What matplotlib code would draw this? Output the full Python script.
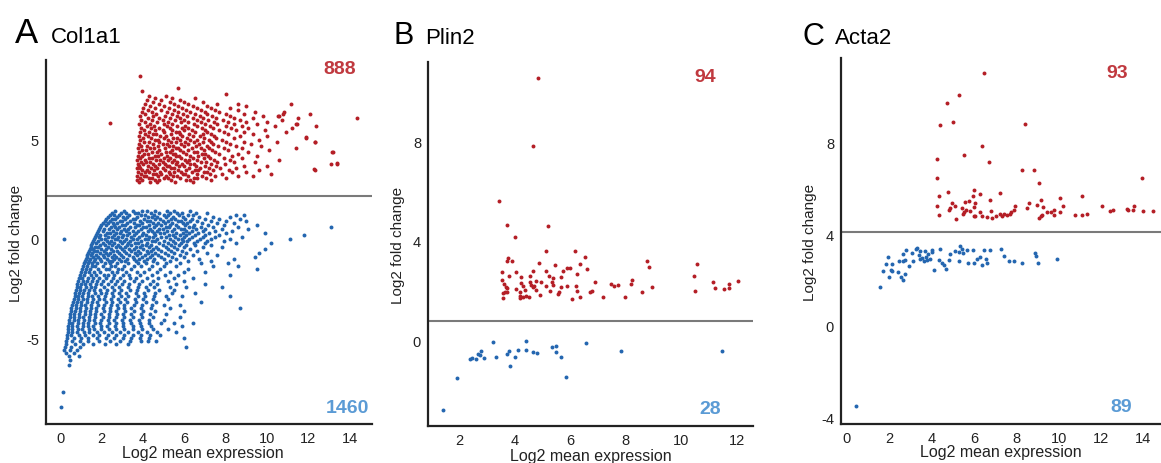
import numpy as np
import matplotlib.pyplot as plt

plt.rcParams['font.family'] = ['Liberation Sans', 'DejaVu Sans']
plt.rcParams['axes.unicode_minus'] = False

RED = '#b41e26'
BLUE = '#2466b0'
RED_TXT = '#c0393f'
BLUE_TXT = '#5b9bd5'
W, H = 1161, 464

col1a1_up_rows = [
    (2.85, [3.8, 4.35, 4.7, 5.55, 6.4]),
    (2.95, [3.72, 3.95, 4.6, 4.8, 5.35, 6.1, 6.3, 7.3]),
    (3.05, [3.85, 4.3, 4.45, 5.0, 5.2, 5.8, 6.45, 6.6, 7.05, 8.0]),
    (3.15, [3.7, 4.05, 4.15, 4.75, 5.1, 5.45, 5.65, 6.2, 6.85, 7.5, 8.6, 9.3]),
    (3.25, [3.9, 4.5, 4.65, 4.9, 5.3, 5.95, 6.05, 6.6, 7.25, 7.8, 10.2]),
    (3.35, [3.75, 4.1, 4.3, 4.85, 5.25, 5.5, 5.85, 6.35, 6.95, 7.1, 8.3, 9.0]),
    (3.45, [3.95, 4.2, 4.55, 5.05, 5.7, 6.1, 6.5, 6.65, 7.4, 8.15, 9.6, 12.3]),
    (3.55, [3.7, 3.85, 4.4, 4.7, 4.95, 5.35, 5.5, 6.25, 6.75, 7.2, 7.75, 8.5]),
    (3.65, [3.8, 4.25, 4.6, 5.15, 5.25, 5.75, 6.0, 6.55, 7.0, 7.55, 8.9, 10.0]),
    (3.75, [3.75, 4.0, 4.5, 4.8, 5.05, 5.6, 5.9, 6.3, 6.45, 7.3, 7.95, 13.1, 13.4]),
    (3.85, [3.9, 4.15, 4.35, 4.95, 5.4, 5.65, 6.15, 6.8, 7.05, 7.6, 8.4, 9.4]),
    (3.95, [3.7, 4.1, 4.65, 4.85, 5.2, 5.5, 6.05, 6.25, 6.6, 7.45, 8.2, 10.6]),
    (4.05, [3.85, 4.3, 4.45, 5.0, 5.3, 5.85, 6.4, 6.95, 7.25, 7.9, 8.8]),
    (4.15, [3.75, 3.95, 4.6, 4.75, 5.15, 5.6, 5.75, 6.3, 6.65, 7.15, 8.3, 9.5]),
    (4.25, [4.05, 4.25, 4.9, 5.45, 5.55, 6.1, 6.85, 7.0, 7.7, 8.6]),
    (4.35, [3.8, 4.45, 4.7, 5.1, 5.3, 5.95, 6.45, 6.6, 7.5, 9.1, 13.15]),
    (4.45, [3.95, 4.15, 4.8, 5.4, 5.8, 6.2, 6.95, 7.35, 8.1, 10.1]),
    (4.55, [3.75, 4.35, 4.55, 5.05, 5.6, 5.7, 6.35, 6.8, 7.2, 7.9, 8.8, 11.4]),
    (4.65, [3.9, 4.2, 4.75, 5.25, 5.45, 6.0, 6.55, 7.1, 7.65, 8.5, 9.7]),
    (4.75, [3.8, 4.5, 4.95, 5.15, 5.85, 6.2, 6.7, 7.4, 8.2, 9.2]),
    (4.85, [4.05, 4.3, 4.8, 5.35, 5.6, 6.05, 6.45, 6.9, 7.3, 8.0, 8.9, 10.5, 12.3]),
    (4.95, [3.85, 4.6, 4.75, 5.2, 5.8, 6.3, 6.6, 7.2, 7.8, 9.6]),
    (5.05, [4.0, 4.4, 5.0, 5.45, 5.65, 6.15, 6.95, 7.55, 8.4, 11.9]),
    (5.15, [3.8, 4.25, 4.85, 5.1, 5.9, 6.4, 6.75, 7.45, 8.7, 10.0]),
    (5.25, [4.1, 4.5, 4.65, 5.35, 5.8, 6.25, 6.9, 7.3, 8.1, 9.3]),
    (5.35, [3.85, 4.3, 5.0, 5.6, 5.75, 6.5, 7.1, 7.9, 8.9, 10.9]),
    (5.45, [4.05, 4.6, 4.95, 5.4, 6.0, 6.35, 7.0, 7.7, 8.5, 9.9]),
    (5.55, [3.9, 4.4, 4.8, 5.3, 5.9, 6.2, 6.85, 7.4, 8.25, 9.1, 11.2]),
    (5.65, [4.2, 4.55, 5.15, 5.65, 6.05, 6.6, 7.25, 8.0, 8.8, 10.4, 12.37]),
    (5.75, [3.8, 4.35, 5.0, 5.4, 6.45, 7.0, 7.6, 8.4, 9.5, 11.4]),
    (5.85, [4.1, 4.7, 5.2, 5.85, 6.2, 6.8, 7.45, 8.1, 9.0, 10.0]),
    (5.95, [3.9, 4.45, 4.95, 5.55, 6.0, 6.6, 7.15, 7.85, 8.7, 10.7]),
    (6.05, [4.25, 4.8, 5.3, 5.8, 6.4, 6.9, 7.55, 8.4, 9.3, 11.5, 14.36]),
    (6.15, [3.85, 4.5, 5.05, 5.65, 6.15, 6.75, 7.35, 8.2, 9.8, 10.6]),
    (6.25, [4.1, 4.65, 5.4, 5.95, 6.5, 7.1, 8.0, 8.9, 12.08]),
    (6.35, [3.95, 4.45, 5.15, 5.7, 6.3, 7.0, 7.7, 9.4, 10.8]),
    (6.45, [4.25, 4.9, 5.5, 6.1, 6.8, 7.5, 8.6]),
    (6.55, [4.0, 4.6, 5.25, 5.9, 6.6, 7.3, 8.2]),
    (6.65, [4.35, 5.0, 5.7, 6.4, 7.1, 9.0]),
    (6.75, [4.1, 4.8, 5.5, 6.2, 7.6, 8.62, 11.15]),
    (6.85, [4.5, 5.3, 6.0, 6.9]),
    (6.95, [4.2, 4.9, 5.8]),
    (7.05, [4.6, 5.4, 6.5]),
    (7.15, [4.3, 5.1]),
    (7.25, [8.02]),
]
col1a1_up_extra = [(3.86, 8.17), (3.94, 7.42), (5.71, 7.53), (2.42, 5.8), (13.17, 4.33),
                   (13.4, 3.8), (12.29, 3.5), (11.87, 5.08), (11.43, 5.75), (10.79, 6.25),
                   (10.55, 6.17), (12.32, 4.87)]

col1a1_down_rows = [
    (1.4, [2.65, 3.1, 3.5, 3.95, 4.2, 4.6, 5.15, 5.5, 6.3]),
    (1.3, [2.5, 2.95, 3.2, 3.6, 3.75, 4.4, 4.8, 5.3, 5.65, 5.9, 6.55, 7.1]),
    (1.2, [2.4, 2.6, 2.85, 3.35, 3.9, 4.1, 4.55, 5.0, 5.2, 5.75, 6.2, 6.4, 8.5, 8.9]),
    (1.1, [2.3, 2.75, 3.05, 3.25, 3.7, 4.25, 4.45, 4.7, 5.1, 5.45, 5.95, 6.7, 7.4, 8.2]),
    (1.0, [2.2, 2.5, 2.65, 3.15, 3.5, 3.6, 4.05, 4.6, 4.85, 5.35, 5.55, 6.05, 6.35, 7.0, 7.7, 8.7]),
    (0.9, [2.15, 2.4, 2.9, 3.0, 3.4, 3.85, 4.2, 4.35, 4.95, 5.2, 5.7, 5.85, 6.3, 6.6, 7.3, 8.0, 9.0]),
    (0.8, [2.05, 2.3, 2.55, 2.75, 3.25, 3.55, 3.95, 4.5, 4.75, 5.05, 5.4, 5.95, 6.15, 6.85, 7.6, 8.4]),
    (0.7, [2.0, 2.2, 2.6, 3.0, 3.15, 3.7, 3.8, 4.3, 4.65, 4.9, 5.3, 5.6, 6.05, 6.45, 7.15, 7.9, 9.5]),
    (0.6, [1.95, 2.45, 2.65, 2.85, 3.4, 3.6, 4.0, 4.15, 4.55, 5.1, 5.25, 5.7, 6.25, 6.4, 6.8, 7.4, 8.6, 13.1]),
    (0.5, [1.9, 2.1, 2.35, 2.75, 3.1, 3.3, 3.9, 4.35, 4.8, 4.95, 5.5, 5.85, 6.0, 6.55, 7.0, 7.8, 9.1]),
    (0.4, [1.85, 2.05, 2.55, 2.95, 3.2, 3.5, 3.75, 4.25, 4.45, 4.7, 5.15, 5.4, 6.1, 6.35, 6.9, 7.5, 8.3]),
    (0.3, [1.8, 2.25, 2.4, 2.7, 2.9, 3.35, 3.65, 4.0, 4.55, 4.85, 5.0, 5.6, 5.95, 6.25, 6.65, 7.2, 8.0, 9.9]),
    (0.2, [1.75, 1.95, 2.15, 2.6, 3.05, 3.25, 3.55, 3.95, 4.15, 4.6, 5.25, 5.45, 5.8, 6.1, 6.5, 7.0, 7.7, 11.8]),
    (0.1, [1.7, 1.9, 2.3, 2.5, 2.8, 3.0, 3.45, 3.8, 4.3, 4.5, 4.9, 5.1, 5.55, 6.0, 6.35, 6.9, 7.5, 8.8]),
    (0.0, [0.19, 1.65, 2.0, 2.15, 2.65, 2.75, 3.2, 3.5, 3.7, 4.1, 4.25, 4.7, 5.3, 5.7, 5.9, 6.25, 6.75, 7.3, 8.2, 11.1]),
    (-0.1, [1.6, 1.85, 2.25, 2.45, 2.9, 3.1, 3.4, 3.9, 4.45, 4.6, 5.0, 5.45, 5.95, 6.15, 6.6, 7.1, 7.9]),
    (-0.2, [1.55, 1.75, 2.05, 2.35, 2.6, 3.0, 3.3, 3.6, 3.75, 4.2, 4.8, 5.2, 5.55, 5.85, 6.45, 7.0, 8.5, 10.2]),
    (-0.3, [1.5, 1.95, 2.15, 2.5, 2.8, 3.25, 3.45, 3.95, 4.15, 4.4, 4.95, 5.35, 5.75, 6.1, 6.5, 7.3]),
    (-0.4, [1.5, 1.7, 1.85, 2.3, 2.7, 2.9, 3.15, 3.65, 3.85, 4.3, 4.65, 5.1, 5.5, 6.0, 6.9, 7.8]),
    (-0.5, [1.45, 1.6, 2.0, 2.2, 2.45, 3.0, 3.35, 3.55, 4.0, 4.5, 4.75, 5.2, 5.65, 6.3, 9.9]),
    (-0.6, [1.4, 1.65, 1.8, 2.1, 2.55, 2.75, 3.1, 3.45, 3.75, 4.2, 4.4, 4.9, 5.35, 5.9, 6.6]),
    (-0.7, [1.35, 1.55, 1.95, 2.2, 2.4, 2.85, 3.2, 3.6, 3.85, 4.25, 4.6, 5.05, 5.5, 6.1, 7.1, 9.6]),
    (-0.8, [1.3, 1.5, 1.75, 2.05, 2.3, 2.6, 2.95, 3.35, 3.7, 4.1, 4.45, 4.75, 5.2, 5.8, 6.4, 7.6]),
    (-0.9, [1.3, 1.6, 1.85, 2.1, 2.5, 2.7, 3.05, 3.5, 3.95, 4.35, 4.9, 5.4, 6.0, 9.4]),
    (-1.0, [1.25, 1.45, 1.7, 1.95, 2.25, 2.6, 2.85, 3.25, 3.55, 3.8, 4.2, 4.55, 5.0, 5.6, 6.7, 8.4]),
    (-1.1, [1.2, 1.4, 1.65, 2.0, 2.35, 2.5, 2.95, 3.15, 3.65, 4.05, 4.5, 5.3, 6.2, 7.3]),
    (-1.2, [1.15, 1.35, 1.55, 1.8, 2.15, 2.4, 2.75, 3.3, 3.75, 4.15, 4.7, 5.1, 5.8, 6.8, 8.1]),
    (-1.35, [1.1, 1.3, 1.55, 1.7, 2.05, 2.45, 2.65, 3.1, 3.55, 3.9, 4.45, 5.0, 5.6, 7.4, 8.6]),
    (-1.5, [1.05, 1.25, 1.45, 1.85, 2.2, 2.35, 2.8, 3.0, 3.45, 4.3, 4.85, 6.2, 9.5]),
    (-1.65, [1.0, 1.2, 1.4, 1.65, 1.95, 2.5, 2.75, 3.2, 3.7, 4.05, 4.7, 5.3, 6.0, 7.0]),
    (-1.8, [0.95, 1.15, 1.5, 1.75, 2.1, 2.3, 2.6, 3.05, 3.35, 3.85, 4.45, 5.05, 5.7, 8.2]),
    (-1.95, [0.9, 1.05, 1.35, 1.6, 1.9, 2.2, 2.55, 2.9, 3.4, 3.65, 4.2, 4.75, 5.5, 6.4]),
    (-2.1, [0.85, 1.1, 1.3, 1.55, 1.8, 2.05, 2.45, 2.75, 3.1, 3.55, 3.95, 4.5, 5.2, 6.0]),
    (-2.25, [0.82, 1.0, 1.2, 1.45, 1.75, 2.0, 2.3, 2.65, 3.0, 3.35, 3.8, 4.35, 4.7, 5.6, 7.0]),
    (-2.4, [0.8, 0.95, 1.25, 1.5, 1.7, 2.1, 2.5, 2.85, 3.3, 3.75, 4.15, 4.55, 5.3, 6.1, 7.8]),
    (-2.55, [0.75, 0.95, 1.15, 1.4, 1.65, 1.95, 2.25, 2.6, 2.95, 3.4, 3.7, 4.25, 4.8, 5.5]),
    (-2.7, [0.72, 0.9, 1.1, 1.35, 1.7, 2.0, 2.2, 2.5, 2.85, 3.2, 3.65, 4.05, 4.6, 5.4, 6.5]),
    (-2.85, [0.7, 0.85, 1.05, 1.35, 1.55, 1.85, 2.15, 2.55, 2.95, 3.3, 3.75, 4.1, 4.55, 5.1, 5.9, 8.2]),
    (-3.0, [0.65, 0.85, 1.1, 1.3, 1.6, 1.9, 2.1, 2.45, 2.8, 3.15, 3.6, 4.0, 4.5, 5.2]),
    (-3.15, [0.62, 0.8, 1.0, 1.3, 1.55, 1.8, 2.2, 2.5, 2.9, 3.25, 3.65, 4.15, 4.65, 6.8]),
    (-3.3, [0.6, 0.75, 1.0, 1.2, 1.5, 1.85, 2.1, 2.45, 2.75, 3.1, 3.55, 3.95, 4.45, 5.0, 5.8]),
    (-3.45, [0.55, 0.75, 0.95, 1.25, 1.5, 1.75, 2.05, 2.4, 2.8, 3.1, 3.45, 3.9, 4.4, 5.3, 8.7]),
    (-3.6, [0.55, 0.7, 0.95, 1.2, 1.45, 1.75, 2.1, 2.4, 2.7, 3.15, 3.55, 4.0, 4.6, 6.0]),
    (-3.75, [0.5, 0.68, 0.9, 1.2, 1.45, 1.7, 2.0, 2.35, 2.75, 3.05, 3.45, 3.9, 4.35, 5.1]),
    (-3.9, [0.48, 0.65, 0.9, 1.1, 1.4, 1.7, 2.05, 2.35, 2.7, 3.1, 3.5, 3.95, 4.5, 5.8]),
    (-4.05, [0.45, 0.65, 0.85, 1.15, 1.4, 1.65, 2.0, 2.3, 2.6, 3.0, 3.4, 3.8, 4.3, 5.0]),
    (-4.2, [0.42, 0.6, 0.85, 1.1, 1.35, 1.7, 1.95, 2.35, 2.7, 3.05, 3.45, 3.85, 4.3, 4.9, 5.5, 6.4]),
    (-4.35, [0.4, 0.6, 0.8, 1.1, 1.35, 1.6, 2.0, 2.25, 2.65, 3.05, 3.5, 3.9, 4.4, 5.9]),
    (-4.5, [0.4, 0.58, 0.85, 1.05, 1.4, 1.65, 2.0, 2.35, 2.7, 3.1, 3.5, 3.95, 4.5, 5.2]),
    (-4.65, [0.38, 0.6, 0.8, 1.15, 1.4, 1.8, 2.1, 2.5, 2.9, 3.3, 3.75, 4.2, 4.7, 5.6]),
    (-4.8, [0.35, 0.55, 0.9, 1.2, 1.6, 1.9, 2.3, 2.7, 3.1, 3.5, 3.9, 4.35, 4.85]),
    (-4.95, [0.35, 0.65, 1.0, 1.35, 1.8, 2.2, 2.6, 3.05, 3.45, 3.85, 4.3, 6.0]),
    (-5.1, [0.3, 0.6, 0.95, 1.35, 1.9, 2.4, 2.9, 3.4, 3.9, 4.25, 4.65]),
    (-5.25, [0.3, 0.7, 1.1, 1.6, 2.15, 2.7, 3.3]),
    (-5.4, [0.25, 0.55, 0.95, 6.1]),
    (-5.55, [0.2, 0.5, 0.8]),
    (-5.7, [0.3, 0.65]),
    (-5.85, [0.45, 0.9]),
    (-6.05, [0.5]),
    (-6.3, [0.45]),
]
col1a1_down_extra = [(0.13, -7.63), (0.03, -8.38)]

# ---- panel B, Plin2
plin2_up = [(4.81, 10.55), (4.63, 7.82), (3.42, 5.6), (3.69, 4.65), (3.98, 4.14), (5.19, 4.6),
            (5.13, 3.58), (6.16, 3.6), (6.52, 3.34), (3.73, 3.32), (3.9, 3.2), (3.69, 3.18),
            (4.86, 3.1), (5.43, 3.04), (6.34, 3.07), (8.78, 3.2), (8.84, 2.96), (10.57, 3.07),
            (3.52, 2.76), (4.04, 2.76), (4.65, 2.77), (5.13, 2.77), (5.86, 2.9), (6.59, 2.87),
            (5.73, 2.8), (5.98, 2.9), (4.22, 2.53), (3.78, 2.6), (4.53, 2.6), (5.22, 2.6),
            (5.37, 2.49), (6.22, 2.67), (5.64, 2.56), (10.47, 2.57), (3.51, 2.44), (4.77, 2.4),
            (3.61, 2.27), (4.22, 2.31), (4.53, 2.33), (4.93, 2.33), (5.33, 2.36), (6.88, 2.33),
            (8.23, 2.44), (11.13, 2.36), (12.06, 2.37), (3.67, 2.13), (3.69, 2.09), (4.04, 2.06),
            (4.29, 2.17), (4.59, 2.23), (4.67, 2.17), (5.13, 2.2), (5.37, 2.23), (5.67, 2.13),
            (5.86, 2.2), (6.19, 2.17), (7.46, 2.27), (7.57, 2.2), (7.72, 2.23), (8.17, 2.25),
            (8.95, 2.15), (11.22, 2.12), (11.72, 2.27), (11.73, 2.09), (11.55, 2.06), (3.63, 1.93),
            (3.72, 1.96), (4.17, 1.96), (4.35, 2.04), (4.65, 2.13), (4.77, 2.04), (5.25, 2.0),
            (5.59, 1.93), (6.22, 2.0), (6.7, 1.96), (6.76, 2.0), (8.57, 1.93), (10.51, 2.0),
            (3.58, 1.89), (4.17, 1.8), (4.29, 1.73), (4.41, 1.8), (4.89, 1.82), (5.54, 1.86),
            (3.57, 1.69), (4.19, 1.69), (6.07, 1.66), (6.36, 1.73), (7.18, 1.76), (7.96, 1.76),
            (4.51, 1.76)]
plin2_down = [(1.4, -2.8), (1.92, -1.5), (2.36, -0.75), (2.43, -0.72), (2.58, -0.75), (2.65, -0.55),
              (2.77, -0.41), (2.75, -0.59), (2.86, -0.72), (3.22, -0.08), (3.3, -0.67), (3.69, -0.55),
              (3.78, -0.41), (3.82, -1.02), (3.99, -0.65), (4.11, -0.39), (4.41, -0.01), (4.41, -0.38),
              (4.63, -0.46), (4.8, -0.52), (5.35, -0.28), (5.49, -0.21), (5.49, -0.48), (5.64, -0.68),
              (5.82, -1.46), (6.55, -0.11), (7.82, -0.44), (11.47, -0.44)]

# ---- panel C, Acta2
acta2_up = [(6.47, 11.01), (5.3, 10.05), (4.72, 9.7), (4.4, 8.77), (5.03, 8.9), (8.4, 8.81),
            (6.4, 7.85), (5.52, 7.46), (6.73, 7.14), (4.23, 7.26), (8.29, 6.81), (8.84, 6.79),
            (9.05, 6.23), (4.25, 6.46), (13.92, 6.46), (5.98, 5.93), (6.29, 5.75), (7.23, 5.77),
            (4.77, 5.82), (4.37, 5.64), (5.93, 5.64), (11.09, 5.66), (10.04, 5.59), (6.76, 5.48),
            (9.15, 5.5), (8.62, 5.35), (5.58, 5.41), (5.76, 5.44), (4.97, 5.35), (6.04, 5.34),
            (8.96, 5.28), (10.19, 5.24), (7.94, 5.24), (12.05, 5.21), (13.56, 5.21), (4.25, 5.21),
            (5.11, 5.24), (4.89, 5.12), (9.28, 5.16), (8.49, 5.12), (5.98, 5.16), (9.79, 5.06),
            (13.21, 5.09), (13.29, 5.06), (13.52, 5.03), (14.0, 5.0), (14.43, 4.99), (4.83, 5.06),
            (5.6, 5.06), (5.82, 5.0), (5.52, 4.95), (6.26, 4.97), (6.8, 5.0), (7.91, 5.03),
            (9.44, 4.95), (9.63, 4.97), (10.06, 4.95), (12.43, 5.02), (12.58, 5.03), (4.37, 4.84),
            (5.47, 4.86), (7.23, 4.87), (7.42, 4.89), (7.71, 4.87), (9.2, 4.83), (9.8, 4.81),
            (10.78, 4.84), (11.09, 4.84), (11.33, 4.87), (5.98, 4.8), (6.07, 4.77), (6.37, 4.8),
            (7.05, 4.8), (7.3, 4.77), (9.16, 4.77), (6.61, 4.73), (6.86, 4.71), (5.15, 4.67),
            (9.08, 4.71), (7.55, 4.83), (7.74, 4.95), (5.43, 5.12)]
acta2_down = [(1.57, 1.7), (1.92, 3.01), (1.86, 2.69), (1.7, 2.4), (2.12, 2.69), (2.07, 2.43),
              (2.14, 2.37), (2.01, 2.14), (2.39, 2.33), (2.55, 2.11), (2.67, 1.99), (2.73, 2.25),
              (2.48, 2.81), (2.64, 2.81), (2.73, 2.87), (2.67, 3.13), (2.77, 3.3), (2.92, 2.62),
              (3.07, 3.16), (3.24, 3.33), (3.33, 3.39), (3.43, 3.27), (3.38, 3.1), (3.46, 2.91),
              (3.55, 2.95), (3.62, 2.84), (3.7, 3.27), (3.74, 3.01), (3.85, 3.13), (3.93, 2.91),
              (4.0, 3.3), (4.12, 2.43), (4.33, 2.87), (4.4, 3.33), (4.5, 2.72), (4.59, 2.66),
              (4.68, 2.47), (4.88, 3.13), (5.11, 3.27), (5.27, 3.2), (5.35, 3.49), (5.43, 3.35),
              (5.27, 2.81), (5.47, 3.16), (5.69, 3.3), (5.74, 2.72), (5.94, 3.3), (5.98, 2.72),
              (6.13, 2.91), (6.26, 2.98), (6.37, 2.66), (6.48, 3.3), (6.57, 2.91), (6.63, 2.75),
              (6.76, 3.3), (7.27, 3.35), (7.42, 3.05), (7.63, 2.81), (7.9, 2.84), (8.26, 2.75),
              (8.89, 3.16), (8.93, 3.05), (9.04, 2.75), (9.94, 2.89), (4.84, 2.87), (3.14, 2.84),
              (3.77, 2.87), (4.02, 3.2), (0.44, -3.52)]


def flatten(rows, extra):
    xs, ys = [], []
    for y, row in rows:
        xs += row
        ys += [y] * len(row)
    for x, y in extra:
        xs.append(x)
        ys.append(y)
    return np.array(xs), np.array(ys)


def style_axis(ax, xlim, ylim, xticks, yticks, cutoff):
    ax.set_xlim(*xlim)
    ax.set_ylim(*ylim)
    ax.set_xticks(xticks)
    ax.set_yticks(yticks)
    ax.tick_params(length=0, labelsize=10.5, pad=5, colors='#222222')
    for s in ['top', 'right']:
        ax.spines[s].set_visible(False)
    for s in ['left', 'bottom']:
        ax.spines[s].set_linewidth(1.6)
        ax.spines[s].set_color('#222222')
    ax.axhline(cutoff, color='#7a7a7a', lw=1.5, zorder=1)
    ax.set_xlabel('Log2 mean expression', fontsize=11.5, color='#222222')
    ax.set_ylabel('Log2 fold change', fontsize=11, color='#222222')


def add_axes(l, r, t, b):
    return fig.add_axes([l / W, 1 - b / H, (r - l) / W, (b - t) / H])


def ftext(x, y, s, **kw):
    fig.text(x / W, 1 - y / H, s, **kw)


fig = plt.figure(figsize=(11.61, 4.64), dpi=100)

# A
ax = add_axes(46, 372, 61, 425)
ux, uy = flatten(col1a1_up_rows, col1a1_up_extra)
dx, dy = flatten(col1a1_down_rows, col1a1_down_extra)
ax.scatter(ux, uy, s=8, color=RED, lw=0, zorder=2)
ax.scatter(dx, dy, s=8, color=BLUE, lw=0, zorder=2)
style_axis(ax, (-0.68, 15.07), (-9.25, 8.95), range(0, 15, 2), [-5, 0, 5], 2.15)
ax.yaxis.set_label_coords(-0.07, 0.5)
ax.xaxis.set_label_coords(0.48, -0.057)

# B
ax = add_axes(428, 753, 63, 427)
px, py = np.array(plin2_up).T
qx, qy = np.array(plin2_down).T
ax.scatter(px, py, s=8, color=RED, lw=0, zorder=2)
ax.scatter(qx, qy, s=8, color=BLUE, lw=0, zorder=2)
style_axis(ax, (0.855, 12.59), (-3.44, 11.19), range(2, 13, 2), [0, 4, 8], 0.79)
ax.yaxis.set_label_coords(-0.071, 0.5)
ax.xaxis.set_label_coords(0.5, -0.06)

# C
ax = add_axes(841, 1161, 59, 425)
px, py = np.array(acta2_up).T
qx, qy = np.array(acta2_down).T
ax.scatter(px, py, s=8, color=RED, lw=0, zorder=2)
ax.scatter(qx, qy, s=8, color=BLUE, lw=0, zorder=2)
style_axis(ax, (-0.28, 14.83), (-4.29, 11.68), range(0, 15, 2), [-4, 0, 4, 8], 4.1)
ax.yaxis.set_label_coords(-0.075, 0.5)
ax.xaxis.set_label_coords(0.5, -0.055)

# panel titles
ftext(15, 43, 'A', fontsize=25, va='baseline')
ftext(51, 43, 'Col1a1', fontsize=16, va='baseline')
ftext(394, 44, 'B', fontsize=22, va='baseline')
ftext(425, 44, 'Plin2', fontsize=16, va='baseline')
ftext(803, 45, 'C', fontsize=22, va='baseline')
ftext(835, 44, 'Acta2', fontsize=16, va='baseline')

# counts
cnt = dict(fontsize=14, fontweight='bold', ha='center', va='center')
ftext(340, 70, '888', color=RED_TXT, **cnt)
ftext(347, 409, '1460', color=BLUE_TXT, **cnt)
ftext(705, 77, '94', color=RED_TXT, **cnt)
ftext(710, 410, '28', color=BLUE_TXT, **cnt)
ftext(1117, 73, '93', color=RED_TXT, **cnt)
ftext(1121, 407, '89', color=BLUE_TXT, **cnt)

fig.savefig('out.png', dpi=100)
